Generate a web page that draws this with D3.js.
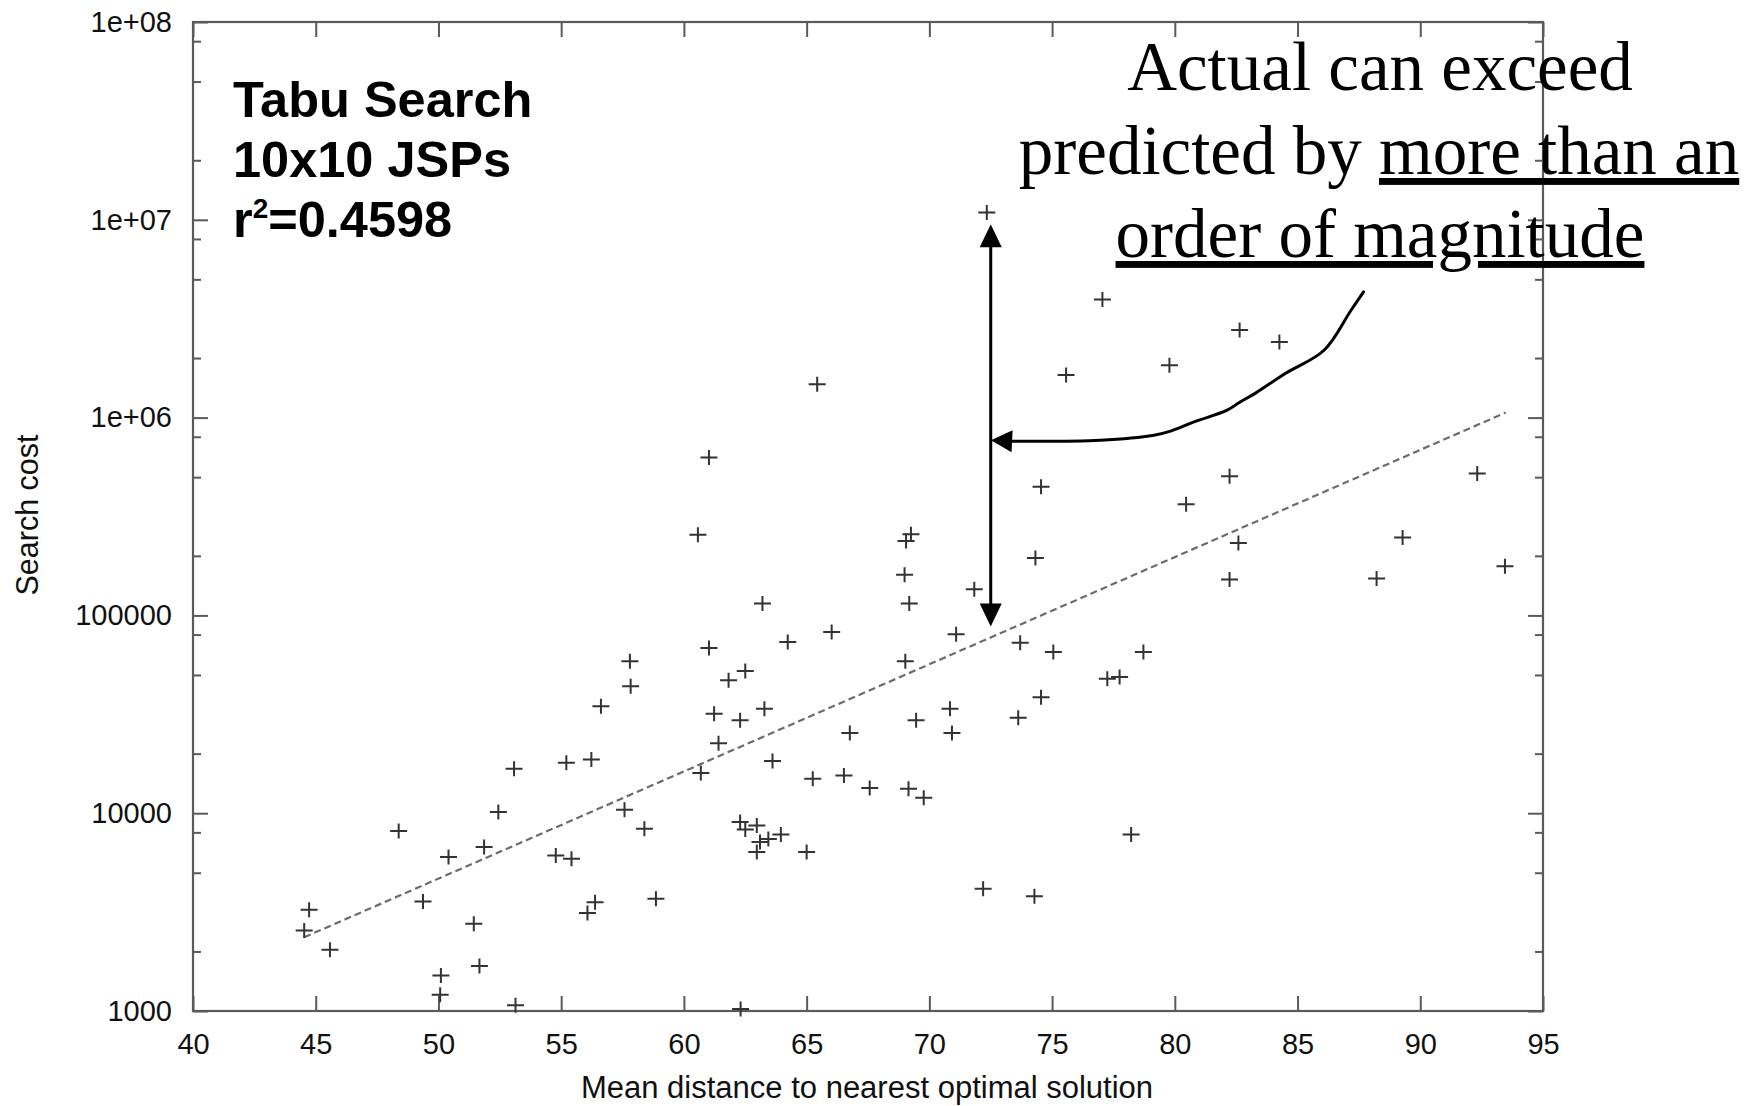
<!DOCTYPE html>
<html>
<head>
<meta charset="utf-8">
<script src="https://cdnjs.cloudflare.com/ajax/libs/d3/7.8.5/d3.min.js"></script>
<style>
  html, body { margin: 0; padding: 0; background: #fff; overflow: hidden; }
  svg { display: block; }
  .ul { text-decoration: underline; text-decoration-skip-ink: none; }
</style>
</head>
<body>
<div id="chart"></div>
<script>
// mean distance to nearest optimal solution (x)
const distance = [
    44.73, 44.53, 45.58, 48.38, 49.37, 50.41, 50.10, 50.07, 51.44, 51.67,
    51.86, 52.44, 53.08, 53.14, 54.78, 55.42, 55.21, 56.23, 56.07, 56.38,
    56.62, 57.58, 57.80, 57.83, 58.39, 58.86, 60.57, 60.69, 61.02, 61.02,
    61.23, 61.41, 61.82, 62.29, 62.29, 62.31, 62.50, 62.50, 62.97, 62.97,
    63.10, 63.20, 63.28, 63.44, 63.61, 63.95, 64.23, 65.00, 65.25, 65.43,
    66.02, 66.52, 66.76, 67.57, 68.99, 69.02, 69.05, 69.15, 69.18, 69.25,
    69.46, 69.77, 70.84, 70.92, 71.09, 71.83, 72.19, 72.34, 73.62, 73.70,
    74.28, 74.32, 74.55, 74.55, 75.05, 75.57, 77.05, 77.25, 77.75, 78.22,
    78.72, 79.78, 80.46, 82.23, 82.23, 82.59, 82.64, 84.26, 88.22, 89.28,
    92.32, 93.45
];
// search cost (y, log scale)
const searchCost = [
    3250, 2550, 2040, 8130, 3580, 6000, 1510, 1210, 2760, 1690,
    6740, 10140, 16800, 1070, 6120, 5890, 18000, 18700, 3125, 3550,
    34700, 10420, 58600, 43800, 8350, 3690, 256000, 15970, 628000, 68400,
    31800, 22600, 47000, 9020, 29500, 1025, 8260, 52400, 8670, 6360,
    7150, 114700, 33700, 7400, 18350, 7810, 73300, 6360, 14930, 1475000,
    82400, 15520, 25400, 13390, 160700, 58600, 237700, 13300, 114700, 257000,
    29500, 11980, 33700, 25400, 80200, 135500, 4150, 10900000, 30400, 72800,
    3800, 195000, 446700, 38600, 65300, 1640000, 3960000, 47900, 48800, 7810,
    65300, 1840000, 364700, 505700, 151700, 232300, 2770000, 2410000, 153500, 247300,
    521300, 177200
];

// regression line end points
const fitX = [44.53, 93.48];
const fitY = [2360, 1060000];

const xTicks = [40, 45, 50, 55, 60, 65, 70, 75, 80, 85, 90, 95];
const yTicks = [1000, 10000, 100000, 1000000, 10000000, 100000000];
const yTickLabels = ["1000", "10000", "100000", "1e+06", "1e+07", "1e+08"];
const yMinorSteps = [2, 5, 8];

const infoLines = ["Tabu Search", "10x10 JSPs"];
const r2Text = "=0.4598";

// vertical double arrow (data units)
const spanX = 72.5;
const spanTop = 9.5e6;
const spanBottom = 8.8e4;

// curved pointer from the note to the arrow (data units)
const pointerX = [87.69, 87.18, 86.08, 84.53, 83.29, 82.66, 82.13, 80.78, 79.86, 79.15, 76.97, 73.37];
const pointerY = [4.32e6, 3.49e6, 2.19e6, 1.68e6, 1.33e6, 1.20e6, 1.09e6, 9.51e5, 8.57e5, 8.15e5, 7.69e5, 7.60e5];
const pointerTip = [72.51, 7.69e5];

const w = 1759, h = 1106;
const mLeft = 193, mRight = 1543, mTop = 22, mBottom = 1011;

const svg = d3.select("#chart")
    .append("svg")
    .attr("width", w)
    .attr("height", h)
    .style("background", "#fff");

const xScale = d3.scaleLinear().domain([40, 95]).range([mLeft, mRight]);
const yScale = d3.scaleLog().domain([1000, 1e8]).range([mBottom, mTop]);

const yMinor = [];
yTicks.slice(0, -1).forEach(d => yMinorSteps.forEach(m => yMinor.push(d * m)));

const axisColor = "#5a5a5a";
const tickFont = "'Liberation Sans', Arial, sans-serif";

function styleAxis(g) {
    g.select(".domain").remove();
    g.selectAll(".tick line").attr("stroke", axisColor).attr("stroke-width", 2);
    g.selectAll(".tick text")
        .attr("fill", "#111")
        .style("font-family", tickFont)
        .style("font-size", "29px");
}

// left axis
svg.append("g")
    .attr("transform", "translate(" + mLeft + ",0)")
    .call(d3.axisLeft(yScale).tickValues(yTicks)
        .tickFormat((d, i) => yTickLabels[i])
        .tickSizeInner(-15).tickSizeOuter(0).tickPadding(21))
    .call(styleAxis);
svg.append("g")
    .attr("transform", "translate(" + mLeft + ",0)")
    .call(d3.axisLeft(yScale).tickValues(yMinor).tickFormat("").tickSizeInner(-8).tickSizeOuter(0))
    .call(styleAxis);

// right axis
svg.append("g")
    .attr("transform", "translate(" + mRight + ",0)")
    .call(d3.axisRight(yScale).tickValues(yTicks).tickFormat("").tickSizeInner(-15).tickSizeOuter(0))
    .call(styleAxis);
svg.append("g")
    .attr("transform", "translate(" + mRight + ",0)")
    .call(d3.axisRight(yScale).tickValues(yMinor).tickFormat("").tickSizeInner(-8).tickSizeOuter(0))
    .call(styleAxis);

// bottom axis
svg.append("g")
    .attr("transform", "translate(0," + mBottom + ")")
    .call(d3.axisBottom(xScale).tickValues(xTicks).tickFormat(d3.format("d"))
        .tickSizeInner(-15).tickSizeOuter(0).tickPadding(22))
    .call(styleAxis);

// top axis
svg.append("g")
    .attr("transform", "translate(0," + mTop + ")")
    .call(d3.axisTop(xScale).tickValues(xTicks).tickFormat("").tickSizeInner(-15).tickSizeOuter(0))
    .call(styleAxis);

// frame
svg.append("rect")
    .attr("x", mLeft).attr("y", mTop)
    .attr("width", mRight - mLeft).attr("height", mBottom - mTop)
    .attr("fill", "none")
    .attr("stroke", axisColor)
    .attr("stroke-width", 2.2);

// axis titles
svg.append("text")
    .attr("x", (mLeft + mRight) / 2 - 1).attr("y", 1098)
    .attr("text-anchor", "middle")
    .style("font-family", tickFont).style("font-size", "31px")
    .attr("fill", "#111")
    .text("Mean distance to nearest optimal solution");

svg.append("text")
    .attr("transform", "translate(38,515) rotate(-90)")
    .attr("text-anchor", "middle")
    .style("font-family", tickFont).style("font-size", "30.5px")
    .attr("fill", "#111")
    .text("Search cost");

// regression line
const fitLine = d3.line().x(d => xScale(d[0])).y(d => yScale(d[1]));
svg.append("path")
    .attr("d", fitLine(d3.zip(fitX, fitY)))
    .attr("fill", "none")
    .attr("stroke", "#6c6c6c")
    .attr("stroke-width", 2.2)
    .attr("stroke-dasharray", "7,4");

// points
svg.selectAll("path.pt")
    .data(d3.zip(distance, searchCost))
    .enter()
    .append("path")
    .attr("class", "pt")
    .attr("transform", d => "translate(" + xScale(d[0]) + "," + yScale(d[1]) + ")")
    .attr("d", "M-8.5,0H8.5M0,-7.5V7.5")
    .attr("stroke", "#333")
    .attr("stroke-width", 2)
    .attr("fill", "none");

// info block
const info = svg.append("g")
    .style("font-family", tickFont)
    .style("font-weight", "bold")
    .style("font-size", "50.5px")
    .attr("fill", "#000");
infoLines.forEach((t, i) => {
    info.append("text").attr("x", 233).attr("y", 117 + i * 60).text(t);
});
const r2 = info.append("text").attr("x", 233).attr("y", 237);
r2.append("tspan").text("r");
r2.append("tspan").attr("dy", -19).style("font-size", "28px").text("2");
r2.append("tspan").attr("dy", 19).text(r2Text);

// arrowhead helper
function arrowHead(tip, base, half) {
    const dx = tip[0] - base[0], dy = tip[1] - base[1];
    const len = Math.hypot(dx, dy);
    const nx = -dy / len * half, ny = dx / len * half;
    return [tip, [base[0] + nx, base[1] + ny], [base[0] - nx, base[1] - ny]];
}

// vertical double arrow
const ax = xScale(spanX), ayTop = yScale(spanTop), ayBot = yScale(spanBottom);
svg.append("line")
    .attr("x1", ax).attr("x2", ax)
    .attr("y1", ayTop + 20).attr("y2", ayBot - 20)
    .attr("stroke", "#000").attr("stroke-width", 3);
[[[ax, ayTop], [ax, ayTop + 23]], [[ax, ayBot], [ax, ayBot - 23]]].forEach(p => {
    svg.append("polygon")
        .attr("points", arrowHead(p[0], p[1], 11).map(q => q.join(",")).join(" "))
        .attr("fill", "#000");
});

// curved pointer
const pointer = d3.line()
    .x(d => xScale(d[0])).y(d => yScale(d[1]))
    .curve(d3.curveCatmullRom);
const pts = d3.zip(pointerX, pointerY);
svg.append("path")
    .attr("d", pointer(pts))
    .attr("fill", "none")
    .attr("stroke", "#000")
    .attr("stroke-width", 3)
    .attr("stroke-linecap", "round");
const tipPx = [xScale(pointerTip[0]), yScale(pointerTip[1])];
const basePx = [xScale(pts[pts.length - 1][0]), yScale(pts[pts.length - 1][1])];
svg.append("polygon")
    .attr("points", arrowHead(tipPx, basePx, 11).map(q => q.join(",")).join(" "))
    .attr("fill", "#000");

// note text
const note = svg.append("g")
    .style("font-family", "'Liberation Serif', 'Times New Roman', serif")
    .style("font-size", "69px")
    .attr("fill", "#000")
    .attr("text-anchor", "middle");
note.append("text").attr("x", 1380).attr("y", 90).text("Actual can exceed");
const l2 = note.append("text").attr("x", 1379).attr("y", 174);
l2.append("tspan").text("predicted by ");
l2.append("tspan").attr("class", "ul").text("more than an");
note.append("text").attr("x", 1380).attr("y", 257)
    .attr("class", "ul")
    .text("order of magnitude");
</script>
</body>
</html>
